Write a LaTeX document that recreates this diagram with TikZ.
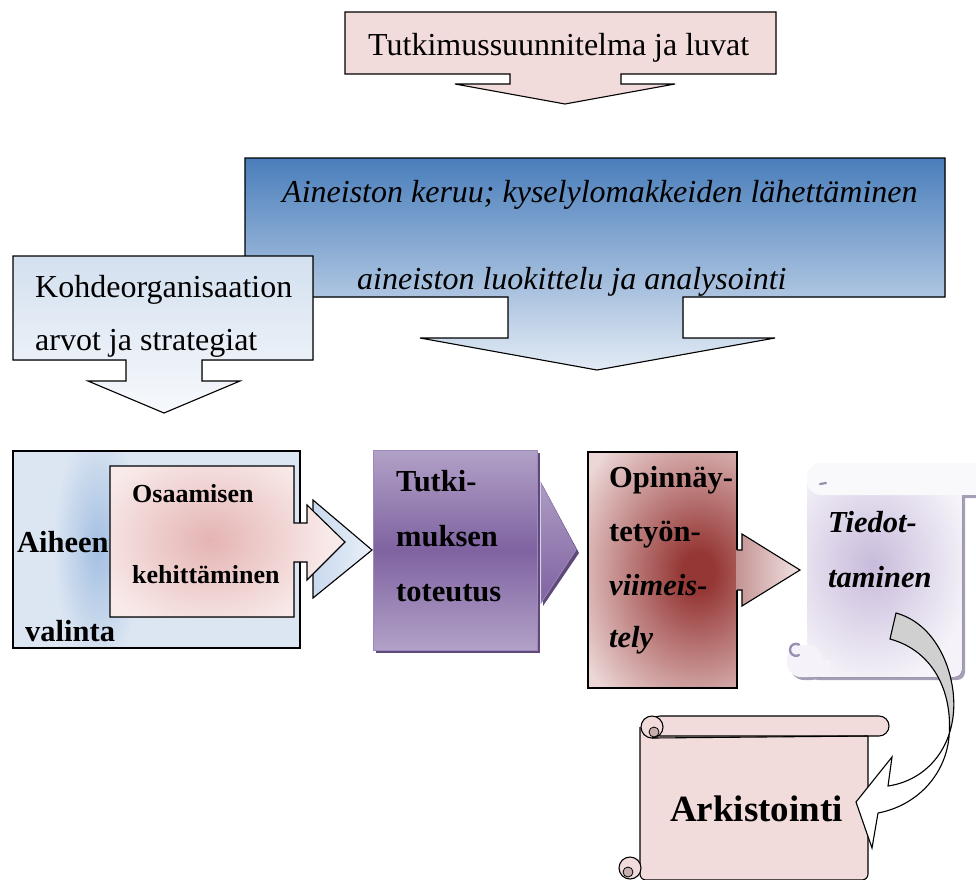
\documentclass[tikz,border=0pt]{standalone}
\usepackage{fontspec}
\setmainfont{Liberation Serif}

% palette
\definecolor{planpink}{HTML}{F2DCDB}
\definecolor{collecttop}{HTML}{4A7EBB}
\definecolor{collectbot}{HTML}{E3EBF5}
\definecolor{orgtop}{HTML}{D3E0EF}
\definecolor{orgbot}{HTML}{F7F9FC}
\definecolor{topicbg}{HTML}{DCE6F2}
\definecolor{topicglow}{HTML}{A3BFE2}
\definecolor{skillbg}{HTML}{F8EAE9}
\definecolor{skillglow}{HTML}{E4B4B3}
\definecolor{chevblueA}{HTML}{C9D9EE}
\definecolor{chevblueB}{HTML}{E9F0F8}
\definecolor{purplelight}{HTML}{B2A1C7}
\definecolor{purplemid}{HTML}{7F63A1}
\definecolor{purpleshadow}{HTML}{5F497A}
\definecolor{purpleedge}{HTML}{9D89BC}
\definecolor{thesisbg}{HTML}{ECD6D6}
\definecolor{thesisglow}{HTML}{953735}
\definecolor{thesisarrowA}{HTML}{C39393}
\definecolor{thesisarrowB}{HTML}{F3E3E3}
\definecolor{scrollbg}{HTML}{F5F3F9}
\definecolor{scrollglow}{HTML}{C8BBDB}
\definecolor{scrollshade}{HTML}{A69EB7}
\definecolor{scrollmark}{HTML}{9A8FB0}
\definecolor{arrowgray}{HTML}{D0D0D0}
\definecolor{curlpink}{HTML}{C8AFAE}

% soft glows: the glow fades out at one fifth of the filled rectangle's half size,
% so the rectangle can be made larger than the box that clips it
\pgfdeclareradialshading{topicglowshade}{\pgfpointorigin}{color(0bp)=(topicglow); color(5bp)=(topicbg); color(50bp)=(topicbg)}
\pgfdeclareradialshading{skillglowshade}{\pgfpointorigin}{color(0bp)=(skillglow); color(5bp)=(skillbg); color(50bp)=(skillbg)}
\pgfdeclareradialshading{thesisglowshade}{\pgfpointorigin}{color(0bp)=(thesisglow); color(0.6bp)=(thesisglow); color(5bp)=(thesisbg); color(50bp)=(thesisbg)}
\pgfdeclareradialshading{scrollglowshade}{\pgfpointorigin}{color(0bp)=(scrollglow); color(5bp)=(scrollbg); color(50bp)=(scrollbg)}
\pgfdeclareverticalshading{twistshade}{100bp}{color(0bp)=(white); color(46bp)=(white); color(52bp)=(arrowgray); color(100bp)=(arrowgray)}

\begin{document}
\begin{tikzpicture}[x=1pt,y=-1pt,line join=miter,
  outline/.style={draw=black, line width=1.1pt},
  lbl/.style={inner sep=0pt, anchor=base west, font=\fontsize{32}{38}\selectfont},
  lblit/.style={inner sep=0pt, anchor=base west, font=\fontsize{32}{38}\selectfont\itshape},
  lblbf/.style={inner sep=0pt, anchor=base west, font=\fontsize{30.5}{36}\selectfont\bfseries},
  lblbfit/.style={inner sep=0pt, anchor=base west, font=\fontsize{30.5}{36}\selectfont\bfseries\itshape},
  lblsmall/.style={inner sep=0pt, anchor=base west, font=\fontsize{26}{30}\selectfont\bfseries}]
\useasboundingbox (0,0) rectangle (976,879);
\clip (0,0) rectangle (976,879);

% ---- research plan callout
\filldraw[outline, fill=planpink]
  (345,12) -- (776,12) -- (776,74) -- (621,74) -- (621,84) -- (675,84)
  -- (565,104) -- (455,84) -- (510,84) -- (510,74) -- (345,74) -- cycle;
\node[lbl] (plan) at (368,55) {Tutkimussuunnitelma ja luvat};

% ---- data collection callout
\filldraw[outline, top color=collecttop, bottom color=collectbot]
  (245,158) -- (945,158) -- (945,297) -- (683,297) -- (683,338) -- (775,338)
  -- (597,370) -- (420,338) -- (508,338) -- (508,297) -- (245,297) -- cycle;
\node[lblit] (collect1) at (282,202) {Aineiston keruu; kyselylomakkeiden lähettäminen};
\node[lblit] (collect2) at (357,289) {aineiston luokittelu ja analysointi};

% ---- organisation values callout
\filldraw[outline, top color=orgtop, bottom color=orgbot]
  (13,256) -- (313,256) -- (313,360) -- (202,360) -- (202,381) -- (240,381)
  -- (164,413) -- (88,381) -- (126,381) -- (126,360) -- (13,360) -- cycle;
\node[lbl] (org1) at (35,297) {Kohdeorganisaation};
\node[lbl] (org2) at (35,350) {arvot ja strategiat};

% ---- topic selection box
\begin{scope}
  \clip (13,451) rectangle (300,648);
  \fill[shading=topicglowshade] (98-225,548-600) rectangle (98+225,548+600);
\end{scope}
\draw[outline] (13,451) rectangle (300,648);
\node[lblbf] (topic1) at (17,552) {Aiheen};
\node[lblbf] (topic2) at (25,641) {valinta};

% blue chevron behind the skills arrow
\filldraw[outline, left color=chevblueA, right color=chevblueB]
  (313,500) -- (372,550) -- (313,598) -- cycle;

% ---- skills development callout
\begin{scope}
  \clip (110,466) -- (294,466) -- (294,523) -- (307,523) -- (307,505) -- (345,542)
    -- (307,580) -- (307,562) -- (294,562) -- (294,617) -- (110,617) -- cycle;
  \fill[shading=skillglowshade] (210-600,540-475) rectangle (210+600,540+475);
\end{scope}
\draw[outline]
  (110,466) -- (294,466) -- (294,523) -- (307,523) -- (307,505) -- (345,542)
  -- (307,580) -- (307,562) -- (294,562) -- (294,617) -- (110,617) -- cycle;
\node[lblsmall] (skill1) at (132,502) {Osaamisen};
\node[lblsmall] (skill2) at (132,583) {kehittäminen};

% ---- research implementation box
\fill[purpleshadow] (376,453) rectangle (540,653);
\filldraw[draw=purpleedge, line width=1pt, top color=purplelight, bottom color=purplelight, middle color=purplemid]
  (373,450) rectangle (537,650);
\fill[purpleshadow] (543,486) -- (579,553) -- (543,606) -- cycle;
\filldraw[draw=purpleedge, line width=0.8pt, top color=purplelight!90!purplemid, bottom color=purplemid]
  (541,483) -- (576,550) -- (541,603) -- cycle;
\node[lblbf] (res1) at (396,491) {Tutki-};
\node[lblbf] (res2) at (396,546) {muksen};
\node[lblbf] (res3) at (396,601) {toteutus};

% ---- thesis finishing box
\begin{scope}
  \clip (588,452) rectangle (737,688);
  \fill[shading=thesisglowshade] (698-675,572-825) rectangle (698+675,572+825);
\end{scope}
\draw[outline] (737,550) -- (737,452) -- (588,452) -- (588,688) -- (737,688) -- (737,590);
\fill[left color=thesisarrowA, right color=thesisarrowB]
  (736,550) -- (742,550) -- (742,534) -- (800,570) -- (742,606) -- (742,590) -- (736,590) -- cycle;
\draw[outline] (737,550) -- (742,550) -- (742,534) -- (800,570) -- (742,606) -- (742,590) -- (737,590);
\node[lblbf] (thesis1) at (609,487) {Opinnäy-};
\node[lblbf] (thesis2) at (609,541) {tetyön-};
\node[lblbfit] (thesis3) at (609,595) {viimeis-};
\node[lblbfit] (thesis4) at (609,647) {tely};

% ---- communication scroll (vertical)
\begin{scope}[shift={(3,3)}]
  \fill[scrollshade, rounded corners=14] (807,463) rectangle (1000,495);
  \fill[scrollshade, rounded corners=8] (807,475) rectangle (962,677);
  \fill[scrollshade, rounded corners=14] (787,645) rectangle (822,677);
\end{scope}
\begin{scope}
  \clip[rounded corners=8] (807,475) rectangle (962,677);
  \fill[shading=scrollglowshade] (872-500,565-600) rectangle (872+500,565+600);
\end{scope}
\fill[scrollbg, rounded corners=14] (787,645) rectangle (822,677);
\fill[scrollbg] (805,660) rectangle (830,677);
\fill[scrollbg!60!white, rounded corners=14] (807,463) rectangle (1000,495);
\draw[scrollshade, line width=1pt] (962,495) -- (976,495);
\draw[scrollmark, line width=2.2pt, line cap=round] (820,484) -- (826,483);
\draw[scrollmark, line width=2.4pt, line cap=round] (799,655) arc[start angle=60, end angle=300, radius=6];
\node[lblbfit] (info1) at (828,532) {Tiedot-};
\node[lblbfit] (info2) at (828,587) {taminen};

% ---- archiving scroll (horizontal)
\filldraw[outline, fill=planpink, rounded corners=6]
  (640,727) -- (640,880) -- (868,880) -- (868,736);
\filldraw[outline, fill=planpink, rounded corners=10]
  (650,716) -- (889,716) -- (889,736) -- (650,736) -- cycle;
\filldraw[outline, fill=planpink] (652,727) circle (11);
\filldraw[line width=0.8pt, fill=curlpink] (654,732) circle (5);
\draw[outline] (652,738) -- (868,736);
\filldraw[outline, fill=planpink] (630,868) circle (11);
\filldraw[line width=0.8pt, fill=curlpink] (628,872) circle (5);
\node[inner sep=0pt, anchor=base west, font=\fontsize{37}{42}\selectfont\bfseries] (archive) at (670,821) {Arkistointi};

% ---- curved arrow from communication to archiving
\coordinate (tailtop) at (896,613);
\coordinate (tailbot) at (890,639);
\coordinate (tip) at (856,802);
\filldraw[outline, shading=twistshade]
  (tailtop) .. controls (940,625) and (958,680) .. (953,717)
  .. controls (948,755) and (922,781) .. (888,786)
  -- (892,757) -- (tip) -- (872,848) -- (878,813)
  .. controls (915,806) and (945,777) .. (949,737)
  .. controls (953,693) and (934,651) .. (tailbot) -- cycle;
\end{tikzpicture}
\end{document}
